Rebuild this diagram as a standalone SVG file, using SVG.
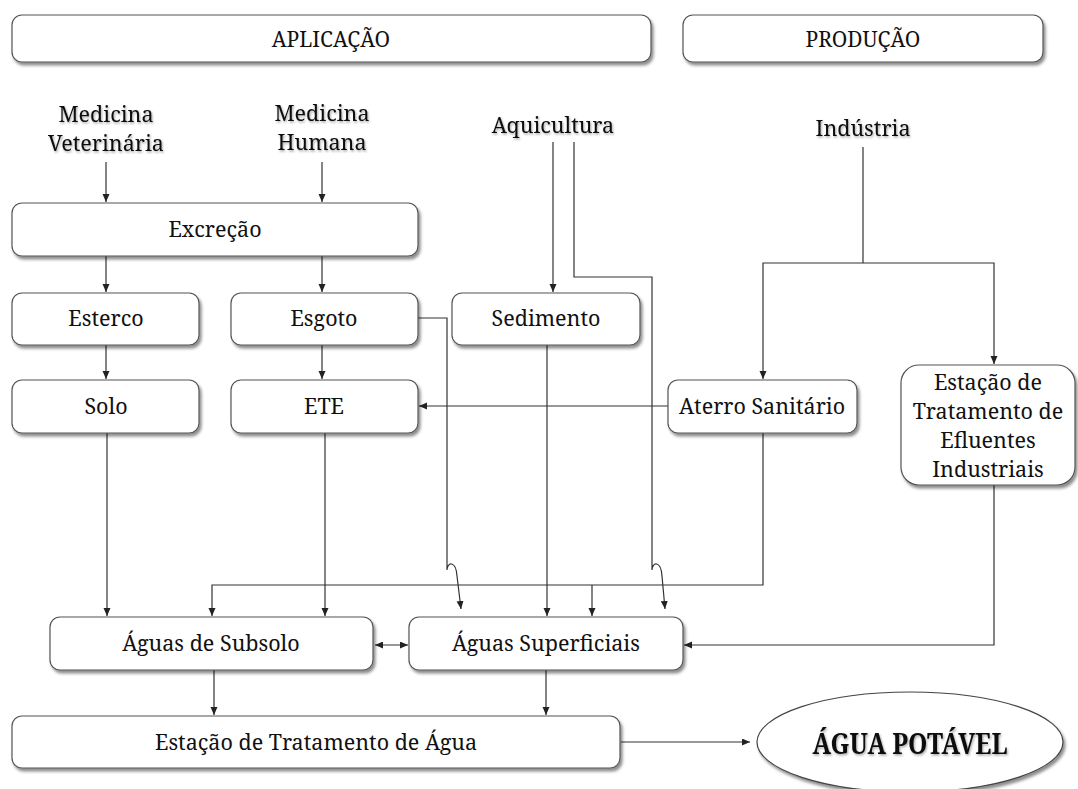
<svg xmlns="http://www.w3.org/2000/svg" width="1078" height="789" viewBox="0 0 1078 789">
<defs>
<style>
.box{fill:#fff;stroke:#555;stroke-width:1.2;filter:url(#sh)}
.t{font-family:'Noto Serif','DejaVu Serif',serif;font-size:21.5px;fill:#111;text-anchor:middle}
.h{font-size:21px}
.lbl{filter:url(#ts)}
.c{fill:none;stroke:#333;stroke-width:1.2}
.a{marker-end:url(#ar)}
</style>
<filter id="sh" x="-10%" y="-20%" width="130%" height="160%">
<feDropShadow dx="2" dy="3" stdDeviation="1.6" flood-color="#000" flood-opacity="0.45"/>
</filter>
<filter id="ts" x="-10%" y="-30%" width="130%" height="170%">
<feDropShadow dx="1" dy="1.5" stdDeviation="1.2" flood-color="#000" flood-opacity="0.35"/>
</filter>
<marker id="ar" markerUnits="userSpaceOnUse" markerWidth="9" markerHeight="8" refX="8" refY="3.5" orient="auto">
<path d="M0,0 L8,3.5 L0,7 z" fill="#222"/>
</marker>
<marker id="as" markerUnits="userSpaceOnUse" markerWidth="9" markerHeight="8" refX="0" refY="3.5" orient="auto">
<path d="M8,0 L0,3.5 L8,7 z" fill="#222"/>
</marker>
</defs>
<rect width="1078" height="789" fill="#fff"/>

<g id="connectors">
<path class="c a" d="M106,162 V202"/>
<path class="c a" d="M322,162 V202"/>
<path class="c a" d="M106,256 V292"/>
<path class="c a" d="M322,256 V292"/>
<path class="c a" d="M106,345 V379"/>
<path class="c a" d="M322,345 V379"/>
<path class="c a" d="M553,142 V292"/>
<path class="c a" d="M574,142 V277 H652 V570 C652,562 661,560 662,576 L665,609"/>
<path class="c a" d="M418,318 H447 V570 C447,562 456,560 457,576 L461,609"/>
<path class="c" d="M863,147 V263"/>
<path class="c a" d="M863,263 H763 V379"/>
<path class="c a" d="M863,263 H994 V364"/>
<path class="c a" d="M668,406 H419"/>
<path class="c a" d="M763,433 V585 H212 V616"/>
<path class="c a" d="M592,585 V616"/>
<path class="c a" d="M107,433 V616"/>
<path class="c a" d="M325,433 V616"/>
<path class="c a" d="M547,345 V616"/>
<path class="c a" d="M375,645 H408" marker-start="url(#as)"/>
<path class="c a" d="M994,485 V645 H684"/>
<path class="c a" d="M214,670 V715"/>
<path class="c a" d="M546,670 V715"/>
<path class="c a" d="M621,742 H750"/>
</g>

<g id="aplicacao"><rect class="box" x="12" y="15" width="639" height="47" rx="10"/><text class="t h" x="331" y="47">APLICAÇÃO</text></g>
<g id="producao"><rect class="box" x="683" y="15" width="360" height="47" rx="10"/><text class="t h" x="863" y="47">PRODUÇÃO</text></g>

<g id="med-vet" class="lbl"><text class="t" x="106" y="122">Medicina</text><text class="t" x="106" y="151">Veterinária</text></g>
<g id="med-hum" class="lbl"><text class="t" x="322" y="121">Medicina</text><text class="t" x="322" y="150">Humana</text></g>
<g id="aquicultura" class="lbl"><text class="t" x="553" y="133">Aquicultura</text></g>
<g id="industria" class="lbl"><text class="t" x="863" y="136">Indústria</text></g>

<g id="excrecao"><rect class="box" x="12" y="203" width="406" height="53" rx="10"/><text class="t" x="215" y="237">Excreção</text></g>
<g id="esterco"><rect class="box" x="12" y="293" width="187" height="52" rx="10"/><text class="t" x="106" y="326">Esterco</text></g>
<g id="esgoto"><rect class="box" x="231" y="293" width="187" height="52" rx="10"/><text class="t" x="324" y="326">Esgoto</text></g>
<g id="sedimento"><rect class="box" x="452" y="293" width="188" height="52" rx="10"/><text class="t" x="546" y="326">Sedimento</text></g>
<g id="solo"><rect class="box" x="12" y="380" width="187" height="53" rx="10"/><text class="t" x="106" y="414">Solo</text></g>
<g id="ete"><rect class="box" x="231" y="380" width="187" height="53" rx="10"/><text class="t" x="324" y="414">ETE</text></g>
<g id="aterro"><rect class="box" x="668" y="380" width="189" height="53" rx="10"/><text class="t" x="762" y="414">Aterro Sanitário</text></g>
<g id="etei"><rect class="box" x="901" y="365" width="174" height="120" rx="18"/>
<text class="t" x="988" y="390">Estação de</text><text class="t" x="988" y="419">Tratamento de</text><text class="t" x="988" y="448">Efluentes</text><text class="t" x="988" y="477">Industriais</text></g>
<g id="aguas-subsolo"><rect class="box" x="50" y="617" width="323" height="53" rx="10"/><text class="t" x="211" y="651">Águas de Subsolo</text></g>
<g id="aguas-superficiais"><rect class="box" x="409" y="617" width="274" height="53" rx="10"/><text class="t" x="546" y="651">Águas Superficiais</text></g>
<g id="eta"><rect class="box" x="12" y="716" width="608" height="52" rx="10"/><text class="t" x="316" y="750">Estação de Tratamento de Água</text></g>
<g id="agua-potavel"><ellipse cx="910" cy="742" rx="153" ry="50" fill="#fff" stroke="#444" stroke-width="1.2" filter="url(#sh)"/>
<text class="t" x="910" y="754" style="font-weight:bold;font-size:28px;filter:url(#ts)" textLength="195" lengthAdjust="spacingAndGlyphs">ÁGUA POTÁVEL</text></g>
</svg>
